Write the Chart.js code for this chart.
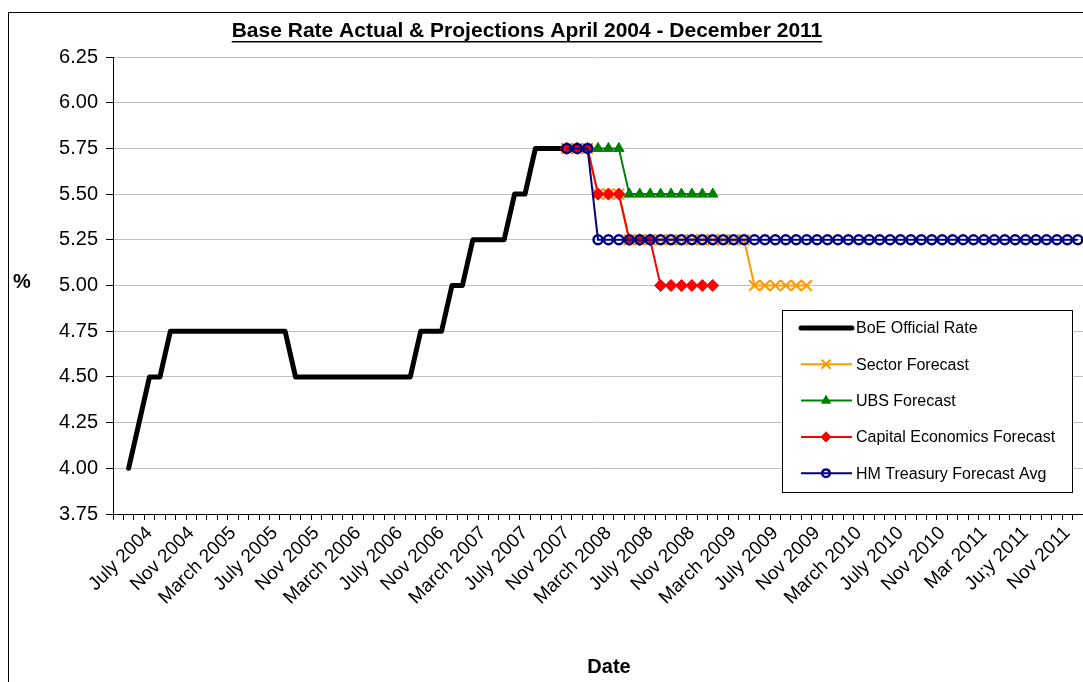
<!DOCTYPE html>
<html>
<head>
<meta charset="utf-8">
<title>Base Rate Actual &amp; Projections</title>
<script src="https://cdn.jsdelivr.net/npm/chart.js@4.4.0/dist/chart.umd.min.js"></script>
<style>
  html, body { margin: 0; padding: 0; background: #fff; overflow: hidden; }
  canvas { display: block; }
</style>
</head>
<body>
<canvas id="rateChart" width="1083" height="682"></canvas>
<script>
const FONT = "'Liberation Sans', Arial, Helvetica, sans-serif";

// categories: one per month, April 2004 .. December 2011
const monthNames = ["Jan", "Feb", "Mar", "Apr", "May", "Jun", "Jul", "Aug", "Sep", "Oct", "Nov", "Dec"];
const months = [];
for (let i = 0; i < 93; i++) {
  const m = 3 + i;
  months.push(monthNames[m % 12] + " " + (2004 + Math.floor(m / 12)));
}

// axis labels shown every 4th month, starting at July 2004
const tickLabels = ["July 2004", "Nov 2004", "March 2005", "July 2005", "Nov 2005", "March 2006",
  "July 2006", "Nov 2006", "March 2007", "July 2007", "Nov 2007", "March 2008", "July 2008",
  "Nov 2008", "March 2009", "July 2009", "Nov 2009", "March 2010", "July 2010", "Nov 2010",
  "Mar 2011", "Ju;y 2011", "Nov 2011"];
const firstTick = 3;
const tickEvery = 4;

// BoE official rate, from April 2004
const boeRate = [null, 4.00, 4.25, 4.50, 4.50,
  4.75, 4.75, 4.75, 4.75, 4.75, 4.75, 4.75, 4.75, 4.75, 4.75, 4.75, 4.75,
  4.50, 4.50, 4.50, 4.50, 4.50, 4.50, 4.50, 4.50, 4.50, 4.50, 4.50, 4.50,
  4.75, 4.75, 4.75, 5.00, 5.00, 5.25, 5.25, 5.25, 5.25, 5.50, 5.50,
  5.75, 5.75, 5.75, 5.75];

// forecasts, from November 2007
const forecastStart = 43;
const sectorForecast = [5.75, 5.75, 5.75, 5.50, 5.50, 5.50,
  5.25, 5.25, 5.25, 5.25, 5.25, 5.25, 5.25, 5.25, 5.25, 5.25, 5.25, 5.25,
  5.00, 5.00, 5.00, 5.00, 5.00, 5.00];
const ubsForecast = [5.75, 5.75, 5.75, 5.75, 5.75, 5.75,
  5.50, 5.50, 5.50, 5.50, 5.50, 5.50, 5.50, 5.50, 5.50];
const capitalForecast = [5.75, 5.75, 5.75, 5.50, 5.50, 5.50, 5.25, 5.25, 5.25,
  5.00, 5.00, 5.00, 5.00, 5.00, 5.00];
const treasuryForecast = [5.75, 5.75, 5.75,
  5.25, 5.25, 5.25, 5.25, 5.25, 5.25, 5.25, 5.25, 5.25, 5.25,
  5.25, 5.25, 5.25, 5.25, 5.25, 5.25, 5.25, 5.25, 5.25, 5.25,
  5.25, 5.25, 5.25, 5.25, 5.25, 5.25, 5.25, 5.25, 5.25, 5.25,
  5.25, 5.25, 5.25, 5.25, 5.25, 5.25, 5.25, 5.25, 5.25, 5.25,
  5.25, 5.25, 5.25, 5.25, 5.25, 5.25, 5.25];

const pad = (offset, values) => Array(offset).fill(null).concat(values);

const datasets = [
  {
    label: "BoE Official Rate", data: boeRate, order: 4,
    borderColor: "#000", borderWidth: 5, borderCapStyle: "round", borderJoinStyle: "round",
    pointRadius: 0
  },
  {
    label: "Sector Forecast", data: pad(forecastStart, sectorForecast), order: 3,
    borderColor: "#FF9900", borderWidth: 2,
    pointStyle: "crossRot", pointRadius: 7.5, pointBorderWidth: 2,
    pointBorderColor: "#FF9900", pointBackgroundColor: "#FF9900"
  },
  {
    label: "UBS Forecast", data: pad(forecastStart, ubsForecast), order: 2,
    borderColor: "#008000", borderWidth: 2,
    pointStyle: "triangle", pointRadius: 6, pointBorderWidth: 1,
    pointBorderColor: "#008000", pointBackgroundColor: "#008000"
  },
  {
    label: "Capital Economics Forecast", data: pad(forecastStart, capitalForecast), order: 1,
    borderColor: "#FF0000", borderWidth: 2,
    pointStyle: "rectRot", pointRadius: 6, pointBorderWidth: 1,
    pointBorderColor: "#FF0000", pointBackgroundColor: "#FF0000"
  },
  {
    label: "HM Treasury Forecast Avg", data: pad(forecastStart, treasuryForecast), order: 0,
    borderColor: "#000080", borderWidth: 2,
    pointStyle: "circle", pointRadius: 4.5, pointBorderWidth: 2.5,
    pointBorderColor: "#000080", pointBackgroundColor: "rgba(0,0,0,0)"
  }
];

// frame, title, axis titles and the boxed legend
const decorations = {
  id: "decorations",
  beforeDraw(chart) {
    const ctx = chart.ctx;
    ctx.save();
    ctx.fillStyle = "#fff";
    ctx.fillRect(0, 0, chart.width, chart.height);
    ctx.strokeStyle = "#000";
    ctx.lineWidth = 1;
    ctx.strokeRect(8.5, 12.5, chart.width + 20, chart.height + 20);
    ctx.restore();
  },
  afterDraw(chart) {
    const ctx = chart.ctx;
    ctx.save();
    ctx.fillStyle = "#000";
    ctx.textBaseline = "middle";

    // title with underline
    const title = "Base Rate Actual & Projections April 2004 - December 2011";
    ctx.font = "bold 21px " + FONT;
    ctx.textAlign = "center";
    ctx.fillText(title, 527, 31);
    const w = ctx.measureText(title).width;
    ctx.fillRect(527 - w / 2, 41, w, 1.5);

    ctx.font = "bold 20px " + FONT;
    ctx.fillText("%", 22, 282);
    ctx.fillText("Date", 609, 667);

    // legend
    const lx = 782.5, ly = 310.5, lw = 290, lh = 182;
    ctx.fillStyle = "#fff";
    ctx.fillRect(lx, ly, lw, lh);
    ctx.strokeStyle = "#000";
    ctx.lineWidth = 1;
    ctx.strokeRect(lx, ly, lw, lh);
    ctx.font = "16px " + FONT;
    ctx.textAlign = "left";
    datasets.forEach((ds, i) => {
      const y = 328 + i * 36.3;
      ctx.strokeStyle = ds.borderColor;
      ctx.lineWidth = ds.borderWidth;
      ctx.lineCap = ds.borderCapStyle || "butt";
      ctx.beginPath();
      ctx.moveTo(801, y);
      ctx.lineTo(852, y);
      ctx.stroke();
      if (ds.pointRadius > 0) {
        ctx.strokeStyle = ds.pointBorderColor;
        ctx.fillStyle = ds.pointBackgroundColor;
        ctx.lineWidth = ds.pointBorderWidth;
        Chart.helpers.drawPoint(ctx, {
          pointStyle: ds.pointStyle, radius: ds.pointRadius * 0.85, rotation: 0, borderWidth: ds.pointBorderWidth
        }, 826, y);
      }
      ctx.fillStyle = "#000";
      ctx.fillText(ds.label, 856, y + 1);
    });
    ctx.restore();
  }
};

new Chart(document.getElementById("rateChart"), {
  type: "line",
  data: { labels: months, datasets: datasets },
  plugins: [decorations],
  options: {
    responsive: false,
    animation: false,
    layout: { autoPadding: false, padding: { top: 57, left: 0, right: 0, bottom: 0 } },
    elements: { line: { tension: 0 } },
    plugins: {
      legend: { display: false },
      tooltip: { enabled: false },
      title: { display: false }
    },
    scales: {
      x: {
        offset: true,
        afterFit: (scale) => {
          scale.height = 168;
          scale.paddingLeft = 0;
          scale.paddingRight = 0;
        },
        grid: { offset: true, drawOnChartArea: false, drawTicks: true, tickLength: 6, tickColor: "#000" },
        border: { color: "#000", width: 1 },
        ticks: {
          autoSkip: false,
          maxRotation: 45,
          minRotation: 45,
          padding: 2,
          color: "#000",
          font: { family: FONT, size: 19 },
          callback: (value, index) => {
            const k = index - firstTick;
            return k >= 0 && k % tickEvery === 0 ? tickLabels[k / tickEvery] : "";
          }
        }
      },
      y: {
        min: 3.75,
        max: 6.25,
        afterFit: (scale) => { scale.width = 113; },
        grid: { color: "#c0c0c0", tickColor: "#000", tickLength: 7 },
        border: { color: "#000", width: 1 },
        ticks: {
          stepSize: 0.25,
          padding: 8,
          color: "#000",
          font: { family: FONT, size: 20 },
          callback: (v) => v.toFixed(2)
        }
      }
    }
  }
});
</script>
</body>
</html>
